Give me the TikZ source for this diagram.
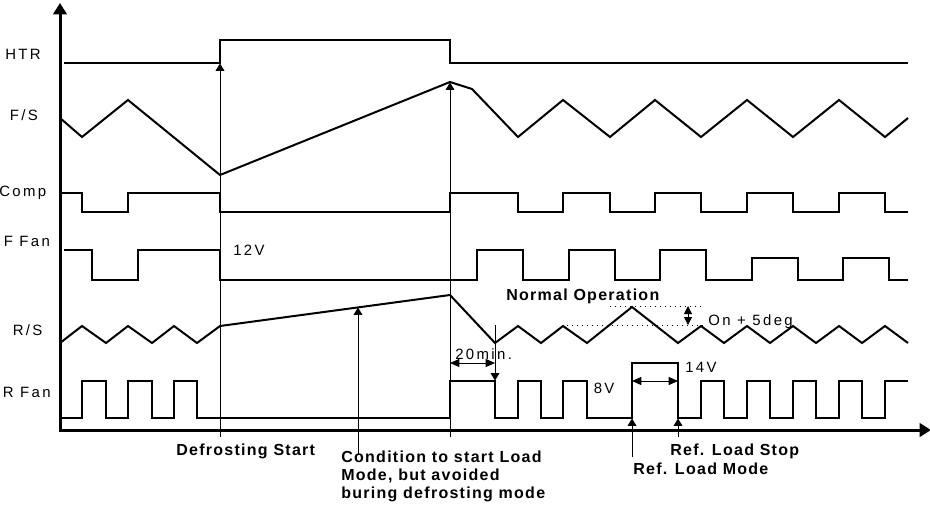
\documentclass[tikz,border=0pt]{standalone}
\usepackage{fontspec}
\setmainfont{Liberation Sans}
\newfontfamily\lblfont[LetterSpace=16]{Liberation Sans}
\newfontfamily\boldfont[LetterSpace=8]{Liberation Sans Bold}
\usetikzlibrary{arrows.meta}
\begin{document}
\begin{tikzpicture}[x=0.75pt,y=-0.75pt,
  sig/.style={line width=1.5pt},
  axisline/.style={line width=2.25pt,-{Triangle[length=8.5pt,width=10pt]}},
  markarrow/.style={line width=0.75pt,-{Triangle[length=5.5pt,width=6.5pt]}},
  dblarrow/.style={line width=0.75pt,{Triangle[length=7pt,width=6pt]}-{Triangle[length=7pt,width=6pt]}},
  dotline/.style={line width=0.75pt,dash pattern=on 0.75pt off 3pt},
  lbl/.style={inner sep=0pt,anchor=base west,font=\lblfont\fontsize{11.2}{13}\selectfont},
  blbl/.style={inner sep=0pt,anchor=base west,align=left,font=\boldfont\fontsize{12}{13.5}\selectfont}]
\useasboundingbox (0,0) rectangle (930,506);
% axes
\coordinate (o) at (60,431.5);
\coordinate (ytop) at (60,3);
\coordinate (xstart) at (58.9,430);
\coordinate (xend) at (931,430);
\draw[axisline] (o) -- (ytop);
\draw[axisline] (xstart) -- (xend);
% signal labels
\node[lbl] (lhtr) at (5,60) {HTR};
\node[lbl] (lfs) at (9.5,120.5) {F/S};
\node[lbl] (lcomp) at (-1,196) {Comp};
\node[lbl] (lffan) at (3.5,246.5) {F Fan};
\node[lbl] (lrs) at (12.5,335) {R/S};
\node[lbl] (lrfan) at (2.5,397) {R Fan};
% HTR
\draw[sig] (64,63) -- (220,63) -- (220,40) -- (450,40) -- (450,63) -- (908,63);
% F/S
\draw[sig] (60,118) -- (82,137) -- (128,100) -- (220,175) -- (450,82) -- (472,89) -- (518,137) -- (563,100) -- (610,137) -- (655,100) -- (701,137) -- (747,100) -- (793,137) -- (839,100) -- (885,137) -- (908,118);
% Comp
\draw[sig] (60,193) -- (82,193) -- (82,212) -- (128,212) -- (128,193) -- (220,193) -- (220,212) -- (450,212) -- (450,193) -- (518,193) -- (518,212) -- (563,212) -- (563,193) -- (610,193) -- (610,212) -- (655,212) -- (655,193) -- (701,193) -- (701,212) -- (747,212) -- (747,193) -- (793,193) -- (793,212) -- (839,212) -- (839,193) -- (885,193) -- (885,212) -- (908,212);
% F Fan
\draw[sig] (64,250) -- (92,250) -- (92,280) -- (138,280) -- (138,250) -- (220,250) -- (220,280) -- (477,280) -- (477,250) -- (523,250) -- (523,280) -- (569,280) -- (569,250) -- (615,250) -- (615,280) -- (660,280) -- (660,250) -- (706,250) -- (706,280) -- (752,280) -- (752,258) -- (798,258) -- (798,280) -- (843,280) -- (843,258) -- (889,258) -- (889,280) -- (908,280);
% R/S
\draw[sig] (60,343) -- (82,326) -- (106,343) -- (128,326) -- (152,343) -- (174,326) -- (197,343) -- (220,326) -- (450,295) -- (495,343) -- (518,326) -- (541,343) -- (563,326) -- (587,343) -- (632,307) -- (678,343) -- (701,326) -- (724,343) -- (747,326) -- (770,343) -- (793,326) -- (816,343) -- (839,326) -- (862,343) -- (885,326) -- (908,343);
% R Fan
\draw[sig] (61,418) -- (82,418) -- (82,381) -- (106,381) -- (106,418) -- (128,418) -- (128,381) -- (152,381) -- (152,418) -- (174,418) -- (174,381) -- (197,381) -- (197,418) -- (450,418) -- (450,381) -- (495,381) -- (495,418) -- (518,418) -- (518,381) -- (541,381) -- (541,418) -- (563,418) -- (563,381) -- (587,381) -- (587,418) -- (632,418) -- (632,363) -- (678,363) -- (678,418) -- (701,418) -- (701,381) -- (724,381) -- (724,418) -- (747,418) -- (747,381) -- (770,381) -- (770,418) -- (793,418) -- (793,381) -- (816,381) -- (816,418) -- (839,418) -- (839,381) -- (862,381) -- (862,418) -- (885,418) -- (885,381) -- (908,381);
% marker coordinates
\coordinate (d0) at (220,437);
\coordinate (d1) at (220,63.5);
\coordinate (c0) at (450,437);
\coordinate (c1) at (450,82.5);
\coordinate (a0) at (358,455);
\coordinate (a1) at (358,307.5);
\coordinate (m0) at (495,325);
\coordinate (m1) at (495,380.5);
\coordinate (t0) at (450,363);
\coordinate (t1) at (495,363);
\coordinate (r0) at (632,457);
\coordinate (r1) at (632,418.5);
\coordinate (s0) at (678,437);
\coordinate (s1) at (678,418.5);
\coordinate (w0) at (632,381);
\coordinate (w1) at (678,381);
\coordinate (v0) at (688,306);
\coordinate (v1) at (688,325);
\draw[markarrow] (d0) -- (d1);
\draw[markarrow] (c0) -- (c1);
\draw[markarrow] (a0) -- (a1);
\draw[markarrow] (m0) -- (m1);
\draw[markarrow] (r0) -- (r1);
\draw[markarrow] (s0) -- (s1);
\draw[dblarrow] (t0) -- (t1);
\draw[dblarrow] (w0) -- (w1);
\draw[line width=0.75pt,{Triangle[length=6pt,width=6pt]}-{Triangle[length=6pt,width=6pt]}] (v0) -- (v1);
% dotted reference lines
\coordinate (p0) at (610,306);
\coordinate (p1) at (703,306);
\coordinate (q0) at (567,325);
\coordinate (q1) at (703,325);
\draw[dotline] (p0) -- (p1);
\draw[dotline] (q0) -- (q1);
% value labels
\node[lbl] (v12) at (233,255.5) {12V};
\node[lbl] (v14) at (685,372.5) {14V};
\node[lbl] (v8) at (593.5,393) {8V};
\node[lbl] (t20) at (455,359.5) {20min.};
\node[lbl] (on5) at (708,325) {On + 5deg};
% bold labels
\node[blbl] (norm) at (506,300) {Normal Operation};
\node[blbl] (dstart) at (176,455) {Defrosting Start};
\node[blbl] (cond) at (341,498) {Condition to start Load\\Mode, but avoided\\buring defrosting mode};
\node[blbl] (rstop) at (670,455) {Ref. Load Stop};
\node[blbl] (rmode) at (633,474) {Ref. Load Mode};
\end{tikzpicture}
\end{document}
